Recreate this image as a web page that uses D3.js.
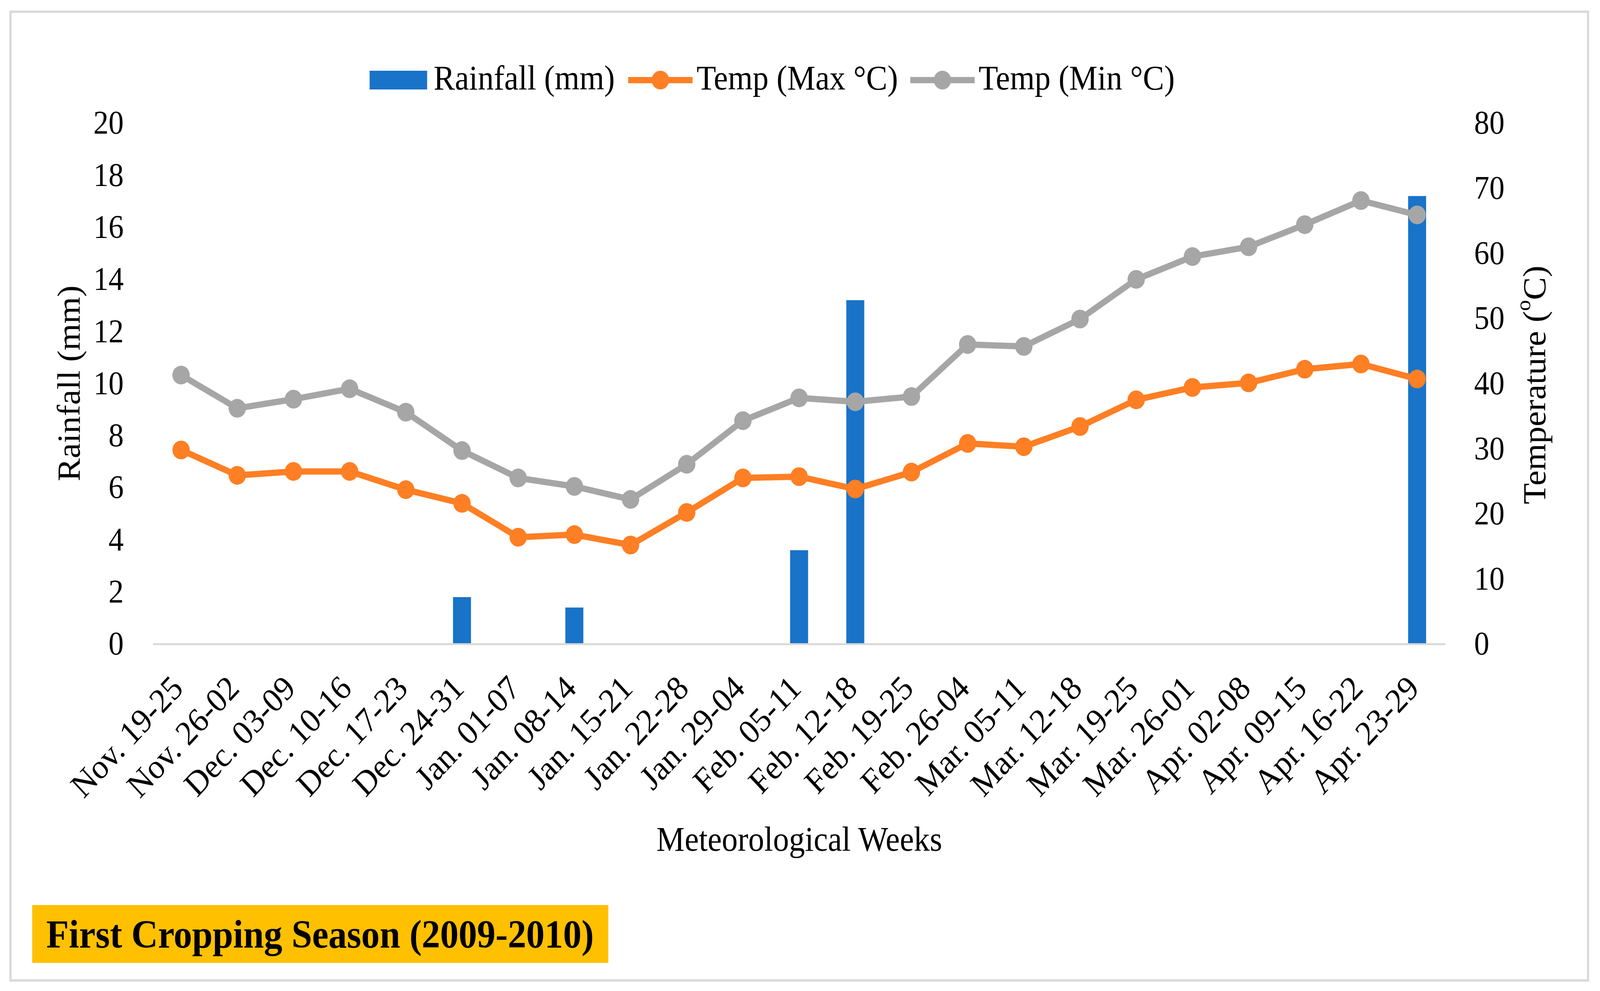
<!DOCTYPE html>
<html><head><meta charset="utf-8">
<script src="https://cdn.jsdelivr.net/npm/d3@7"></script>
<style>html,body{margin:0;padding:0;background:#fff;overflow:hidden;width:100%;height:100%;} svg{display:block;width:100vw;height:100vh;}</style>
</head><body>
<svg id="chart" viewBox="0 0 4424 2536" preserveAspectRatio="none"></svg>
<script>
const weeks = ["Nov. 19-25","Nov. 26-02","Dec. 03-09","Dec. 10-16","Dec. 17-23","Dec. 24-31","Jan. 01-07","Jan. 08-14","Jan. 15-21","Jan. 22-28","Jan. 29-04","Feb. 05-11","Feb. 12-18","Feb. 19-25","Feb. 26-04","Mar. 05-11","Mar. 12-18","Mar. 19-25","Mar. 26-01","Apr. 02-08","Apr. 09-15","Apr. 16-22","Apr. 23-29"];
const rainfall = [0,0,0,0,0,1.8,0,1.4,0,0,0,3.6,13.2,0,0,0,0,0,0,0,0,0,17.2];
const tempMax = [29.8,25.9,26.5,26.5,23.7,21.6,16.4,16.8,15.2,20.2,25.5,25.7,23.8,26.4,30.8,30.3,33.4,37.5,39.4,40.1,42.2,43.0,40.7];
const tempMin = [41.3,36.2,37.6,39.2,35.6,29.7,25.5,24.2,22.2,27.6,34.3,37.8,37.2,38.0,46.0,45.7,49.9,56.0,59.5,61.0,64.4,68.1,65.9];
const rainTicks = [0,2,4,6,8,10,12,14,16,18,20];
const tempTicks = [0,10,20,30,40,50,60,70,80];
const seriesNames = ["Rainfall (mm)","Temp (Max °C)","Temp (Min °C)"];
const colors = {rain:"#1873C9", max:"#FE7F24", min:"#A6A6A6"};

(function(){
const FONT = "'Liberation Serif','Times New Roman',serif";
const svg = d3.select("#chart");

// frame
svg.append("rect").attr("x",0).attr("y",0).attr("width",4424).attr("height",2536).attr("fill","#fff");
svg.append("rect").attr("x",29).attr("y",30).attr("width",4362).attr("height",2479)
  .attr("fill","#fff").attr("stroke","#D9D9D9").attr("stroke-width",6);

const pL = 423, pR = 3996, pT = 315, pB = 1648;

const xBand = d3.scaleBand().domain(weeks).range([pL,pR]).paddingInner(0.68).paddingOuter(0.34);
const xc = d => xBand(d) + xBand.bandwidth()/2;
const yRain = d3.scaleLinear().domain([0,20]).range([pB,pT]);
const yTemp = d3.scaleLinear().domain([0,80]).range([pB,pT]);

// bars
svg.append("g").selectAll("rect").data(weeks.map((w,i)=>({w,v:rainfall[i]})).filter(d=>d.v>0))
  .join("rect")
  .attr("x",d=>xBand(d.w)).attr("width",xBand.bandwidth())
  .attr("y",d=>yRain(d.v)).attr("height",d=>yRain(0)-yRain(d.v))
  .attr("fill",colors.rain);

// x axis
const xAxis = svg.append("g").attr("transform",`translate(0,${pB})`)
  .call(d3.axisBottom(xBand).tickSize(0).tickSizeOuter(0));
xAxis.select(".domain").attr("stroke","#D9D9D9").attr("stroke-width",5);
xAxis.selectAll(".tick text")
  .attr("x",0).attr("y",0).attr("dy",0)
  .attr("transform","translate(10,118) rotate(-45)")
  .attr("text-anchor","end")
  .style("font-family",FONT).style("font-size","88px").attr("fill","#000");

// left axis
const yL = svg.append("g").attr("transform",`translate(${pL},0)`)
  .call(d3.axisLeft(yRain).tickValues(rainTicks).tickSize(0).tickPadding(81));
yL.select(".domain").remove();
yL.selectAll(".tick text").style("font-family",FONT).style("font-size","84px").attr("fill","#000");

// right axis
const yR = svg.append("g").attr("transform",`translate(${pR},0)`)
  .call(d3.axisRight(yTemp).tickValues(tempTicks).tickSize(0).tickPadding(80));
yR.select(".domain").remove();
yR.selectAll(".tick text").style("font-family",FONT).style("font-size","84px").attr("fill","#000");

// lines
function drawLine(vals,color){
  const data = weeks.map((w,i)=>({w,v:vals[i]}));
  svg.append("path").datum(data)
    .attr("d",d3.line().x(d=>xc(d.w)).y(d=>yTemp(d.v)))
    .attr("fill","none").attr("stroke",color).attr("stroke-width",16).attr("stroke-linejoin","round");
  svg.append("g").selectAll("circle").data(data).join("circle")
    .attr("cx",d=>xc(d.w)).attr("cy",d=>yTemp(d.v)).attr("r",24).attr("fill",color);
}
drawLine(tempMax,colors.max);
drawLine(tempMin,colors.min);

// axis titles
svg.append("text").attr("transform","translate(190,981) rotate(-90)")
  .attr("text-anchor","middle").attr("dominant-baseline","central")
  .style("font-family",FONT).style("font-size","88px").text("Rainfall (mm)");
const rt = svg.append("text").attr("transform","translate(4243,985) rotate(-90)")
  .attr("text-anchor","middle").attr("dominant-baseline","central")
  .style("font-family",FONT).style("font-size","88px");
rt.append("tspan").text("Temperature (");
rt.append("tspan").attr("baseline-shift","super").style("font-size","56px").text("o");
rt.append("tspan").text("C)");
svg.append("text").attr("x",2210).attr("y",2177).attr("text-anchor","middle")
  .style("font-family",FONT).style("font-size","88px").text("Meteorological Weeks");

// legend
const lg = svg.append("g");
let lx = 1022; const ly = 205;
lg.append("rect").attr("x",lx).attr("y",ly-24).attr("width",159).attr("height",48).attr("fill",colors.rain);
lx += 159 + 18;
function legText(t){
  const el = lg.append("text").attr("x",lx).attr("y",ly+24).style("font-family",FONT).style("font-size","88px").text(t);
  lx += el.node().getComputedTextLength();
}
legText(seriesNames[0]);
lx += 37;
function legLine(color){
  lg.append("line").attr("x1",lx).attr("x2",lx+178).attr("y1",ly).attr("y2",ly).attr("stroke",color).attr("stroke-width",16);
  lg.append("circle").attr("cx",lx+89).attr("cy",ly).attr("r",24).attr("fill",color);
  lx += 178 + 11;
}
legLine(colors.max);
legText(seriesNames[1]);
lx += 34;
legLine(colors.min);
legText(seriesNames[2]);

// season box
svg.append("rect").attr("x",89).attr("y",2316).attr("width",1593).attr("height",148).attr("fill","#FFC000");
svg.append("text").attr("x",885).attr("y",2425).attr("text-anchor","middle")
  .style("font-family",FONT).style("font-weight","bold").style("font-size","102px")
  .text("First Cropping Season (2009-2010)");
})();
</script>
</body></html>
